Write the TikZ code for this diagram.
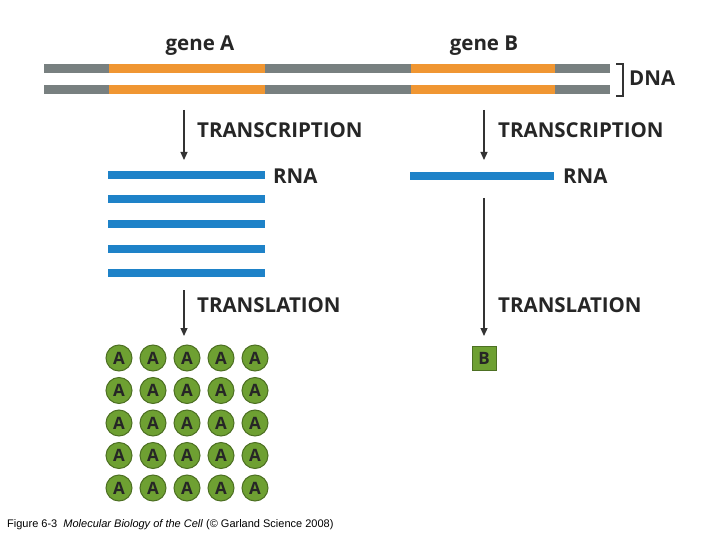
\documentclass[tikz,border=0pt]{standalone}
\usepackage{fontspec}
\usetikzlibrary{arrows.meta}
\setmainfont{Open Sans}
\newfontfamily\capfont{Liberation Sans}
\definecolor{dgray}{RGB}{120,128,128}
\definecolor{dorange}{RGB}{240,150,50}
\definecolor{rblue}{RGB}{30,130,200}
\definecolor{pgreen}{RGB}{110,160,50}
\begin{document}
\begin{tikzpicture}[x=1pt,y=-1pt,
  strand/.style={line width=9pt,dgray},
  gene/.style={line width=9pt,dorange},
  rna/.style={line width=8pt,rblue},
  lbl/.style={font=\bfseries\fontsize{20.5}{22}\selectfont,text=black!85,inner sep=0,anchor=west},
  arr/.style={-{Triangle[length=8pt,width=7pt]},line width=1.2pt,black!80},
  prot/.style={circle,fill=pgreen,draw=pgreen!70!black,line width=1pt,minimum size=26pt,inner sep=0,font=\bfseries\fontsize{17}{17}\selectfont,text=black!85}]
\useasboundingbox (0,0) rectangle (720,540);
\foreach \y in {69,90}{
  \draw[strand] (44,\y) -- (610,\y);
  \draw[gene] (109,\y) -- (265,\y);
  \draw[gene] (411,\y) -- (555,\y);
}
\node[lbl,anchor=center] (gA) at (200,46) {gene A};
\node[lbl,anchor=center] (gB) at (484,46) {gene B};
\draw[line width=2pt,black!80] (616,64) -- (623,64) -- (623,96) -- (616,96);
\node[lbl] (dna) at (629,78) {DNA};
% left column
\coordinate (a1) at (184,110); \coordinate (a2) at (184,160);
\draw[arr] (a1) -- (a2);
\node[lbl] (tA) at (197,130) {TRANSCRIPTION};
\foreach \y in {175,199,224,249,273}{ \draw[rna] (108,\y) -- (265,\y); }
\node[lbl] (rA) at (273,176) {RNA};
\coordinate (a3) at (184,290); \coordinate (a4) at (184,336);
\draw[arr] (a3) -- (a4);
\node[lbl] (tlA) at (197,305) {TRANSLATION};
\foreach \i in {0,...,4}{\foreach \j in {0,...,4}{
  \node[prot] (p\i\j) at (119+34*\i,358+32.5*\j) {A};}}
% right column
\coordinate (b1) at (484,110); \coordinate (b2) at (484,160);
\draw[arr] (b1) -- (b2);
\node[lbl] (tB) at (498,130) {TRANSCRIPTION};
\draw[rna] (410,176) -- (554,176);
\node[lbl] (rB) at (563,176) {RNA};
\coordinate (b3) at (484,198); \coordinate (b4) at (484,336);
\draw[arr] (b3) -- (b4);
\node[lbl] (tlB) at (498,305) {TRANSLATION};
\node[prot,rectangle,minimum size=24pt] (pB) at (484,358) {B};
\node[anchor=west,inner sep=0,font=\capfont\fontsize{11}{13}\selectfont] (cap) at (7,525) {Figure 6-3 \ \emph{Molecular Biology of the Cell} (© Garland Science 2008)};
\end{tikzpicture}
\end{document}
